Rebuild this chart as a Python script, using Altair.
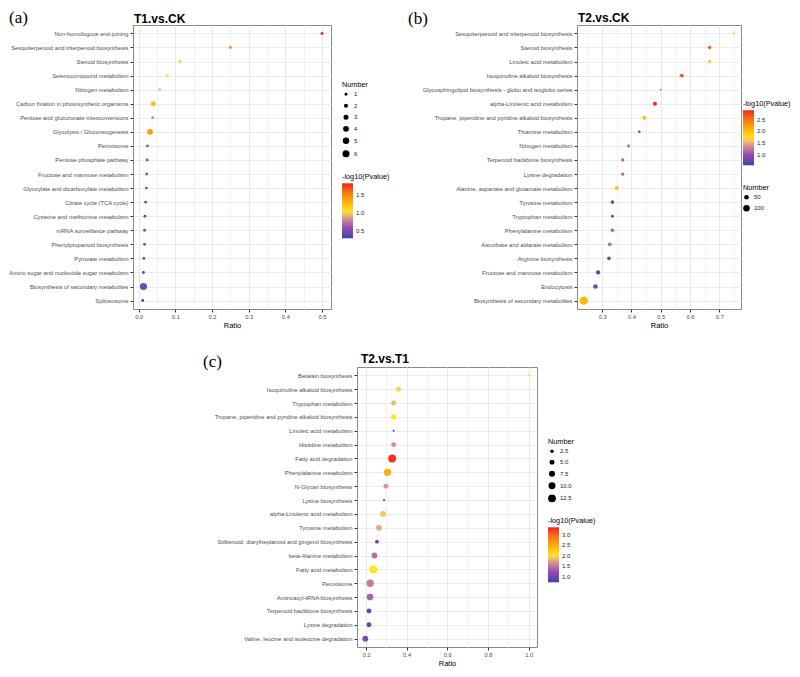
import altair as alt
import pandas as pd

# ---------------- Panel (a): T1.vs.CK ----------------
a_terms = [
    "Non-homologous end-joining",
    "Sesquiterpenoid and triterpenoid biosynthesis",
    "Steroid biosynthesis",
    "Selenocompound metabolism",
    "Nitrogen metabolism",
    "Carbon fixation in photosynthetic organisms",
    "Pentose and glucuronate interconversions",
    "Glycolysis / Gluconeogenesis",
    "Peroxisome",
    "Pentose phosphate pathway",
    "Fructose and mannose metabolism",
    "Glyoxylate and dicarboxylate metabolism",
    "Citrate cycle (TCA cycle)",
    "Cysteine and methionine metabolism",
    "mRNA surveillance pathway",
    "Phenylpropanoid biosynthesis",
    "Pyruvate metabolism",
    "Amino sugar and nucleotide sugar metabolism",
    "Biosynthesis of secondary metabolites",
    "Spliceosome",
]
a_ratio = [0.5, 0.25, 0.112, 0.078, 0.057, 0.04, 0.038, 0.031, 0.024, 0.023,
           0.022, 0.021, 0.019, 0.017, 0.016, 0.016, 0.014, 0.013, 0.013, 0.011]
a_number = [1, 1, 1, 1, 1, 3, 1, 4, 1, 1, 1, 1, 1, 1, 1, 1, 1, 1, 6, 1]
a_logp = [1.84, 1.55, 1.15, 1.05, 0.98, 1.25, 0.8, 1.4, 0.6, 0.58,
          0.55, 0.52, 0.5, 0.47, 0.45, 0.44, 0.4, 0.37, 0.45, 0.3]

# ---------------- Panel (b): T2.vs.CK ----------------
b_terms = [
    "Sesquiterpenoid and triterpenoid biosynthesis",
    "Steroid biosynthesis",
    "Linoleic acid metabolism",
    "Isoquinoline alkaloid biosynthesis",
    "Glycosphingolipid biosynthesis - globo and isoglobo series",
    "alpha-Linolenic acid metabolism",
    "Tropane, piperidine and pyridine alkaloid biosynthesis",
    "Thiamine metabolism",
    "Nitrogen metabolism",
    "Terpenoid backbone biosynthesis",
    "Lysine degradation",
    "Alanine, aspartate and glutamate metabolism",
    "Tyrosine metabolism",
    "Tryptophan metabolism",
    "Phenylalanine metabolism",
    "Ascorbate and aldarate metabolism",
    "Arginine biosynthesis",
    "Fructose and mannose metabolism",
    "Endocytosis",
    "Biosynthesis of secondary metabolites",
]
b_ratio = [0.75, 0.667, 0.667, 0.572, 0.5, 0.48, 0.444, 0.427, 0.39, 0.37,
           0.37, 0.35, 0.335, 0.335, 0.335, 0.326, 0.323, 0.286, 0.277, 0.237]
b_number = [10, 30, 20, 35, 5, 40, 35, 15, 25, 25,
            25, 42, 30, 20, 30, 35, 30, 42, 50, 160]
b_logp = [1.9, 2.6, 2.0, 2.65, 0.6, 2.85, 2.05, 0.7, 1.25, 1.15,
          1.15, 1.95, 0.85, 0.7, 1.1, 1.2, 0.72, 0.7, 0.75, 2.05]

# ---------------- Panel (c): T2.vs.T1 ----------------
c_terms = [
    "Betalain biosynthesis",
    "Isoquinoline alkaloid biosynthesis",
    "Tryptophan metabolism",
    "Tropane, piperidine and pyridine alkaloid biosynthesis",
    "Linoleic acid metabolism",
    "Histidine metabolism",
    "Fatty acid degradation",
    "Phenylalanine metabolism",
    "N-Glycan biosynthesis",
    "Lysine biosynthesis",
    "alpha-Linolenic acid metabolism",
    "Tyrosine metabolism",
    "Stilbenoid, diarylheptanoid and gingerol biosynthesis",
    "beta-Alanine metabolism",
    "Fatty acid metabolism",
    "Peroxisome",
    "Aminoacyl-tRNA biosynthesis",
    "Terpenoid backbone biosynthesis",
    "Lysine degradation",
    "Valine, leucine and isoleucine degradation",
]
c_ratio = [1.0, 0.36, 0.336, 0.336, 0.336, 0.336, 0.329, 0.306, 0.298, 0.289,
           0.284, 0.264, 0.254, 0.242, 0.236, 0.221, 0.22, 0.215, 0.215, 0.197]
c_number = [1, 5, 5, 6, 1, 5, 13, 11, 5, 1,
            7, 7, 3, 7, 14, 11, 9, 5, 5, 7]
c_logp = [2.05, 1.95, 1.85, 2.05, 0.85, 1.65, 3.3, 2.5, 1.7, 0.85,
          1.92, 1.8, 0.9, 1.45, 2.05, 1.55, 1.4, 0.95, 0.95, 1.1]

# gradient colours (low -> high) and their relative stops
COLORS = ["#3B45A5", "#8E49B0", "#D48A9A", "#FFE819", "#FF9A0E", "#EE1B1B"]
STOPS = [0.0, 0.18, 0.35, 0.5, 0.72, 1.0]

FONT = "Liberation Sans"


def panel(terms, ratio, number, logp, title, title_dx, title_dy,
          tag, tag_dx, tag_dy,
          xdom, xvals, major_k, cdom, cvals, nmax, amax, nvals, nfmt,
          size_xy, color_xy, W, H, row_pad):
    df = pd.DataFrame({"Term": terms, "Ratio": ratio,
                       "Number": number, "logP": logp})
    lo, hi = cdom
    stops = [lo + t * (hi - lo) for t in STOPS]
    major = f"abs(datum.value*{major_k} - round(datum.value*{major_k})) < 0.001"
    pts = alt.Chart(df).mark_circle(opacity=1).encode(
        x=alt.X(
            "Ratio:Q",
            scale=alt.Scale(domain=xdom, nice=False, zero=False),
            axis=alt.Axis(
                title="Ratio", values=xvals,
                labelExpr=f"{major} ? format(datum.value, '.1f') : ''",
                labelOverlap=False, labelFontSize=5.8, labelColor="#4D4D4D",
                labelPadding=1.5, tickSize=3, tickColor="#333333",
                tickOpacity={"condition": {"test": major, "value": 1}, "value": 0},
                gridColor={"condition": {"test": major, "value": "#E8E8E8"},
                           "value": "#F2F2F2"},
                domain=False, titleFontSize=7.5, titleFontWeight="normal",
                titleColor="black", titlePadding=2,
            ),
        ),
        y=alt.Y(
            "Term:N", sort=terms,
            scale=alt.Scale(type="point", padding=0.6),
            axis=alt.Axis(
                title=None, labelFontSize=5.8, labelColor="#4D4D4D",
                labelLimit=400, labelPadding=2, tickSize=3,
                tickColor="#333333", domain=False, grid=True,
                gridColor="#EBEBEB",
            ),
        ),
        color=alt.Color(
            "logP:Q",
            scale=alt.Scale(domain=stops, range=COLORS, interpolate="lab"),
            legend=alt.Legend(
                title="-log10(Pvalue)", orient="none",
                legendX=color_xy[0], legendY=color_xy[1],
                direction="vertical", values=cvals, format=".1f",
                gradientLength=55, gradientThickness=11,
                gradientStrokeWidth=0, labelFontSize=6,
                labelColor="#222222", titleFontSize=7.3,
                titleFontWeight="normal", titleColor="black",
                titlePadding=3, labelOffset=3,
            ),
        ),
        size=alt.Size(
            "Number:Q",
            scale=alt.Scale(domain=[0, nmax], range=[0, amax]),
            legend=alt.Legend(
                title="Number", orient="none",
                legendX=size_xy[0], legendY=size_xy[1],
                values=nvals, format=nfmt, symbolType="circle",
                symbolFillColor="black", symbolStrokeColor="black",
                symbolStrokeWidth=0, symbolOpacity=1,
                labelFontSize=6, labelColor="#222222",
                titleFontSize=7.3, titleFontWeight="normal",
                titleColor="black", titlePadding=3, rowPadding=row_pad,
                labelOffset=4,
            ),
        ),
    )
    tag_layer = alt.Chart(pd.DataFrame({"tag": [tag]})).mark_text(
        font="Liberation Serif", fontSize=17, align="left",
        baseline="alphabetic", color="black",
    ).encode(text="tag:N", x=alt.value(tag_dx), y=alt.value(tag_dy))
    title_layer = alt.Chart(pd.DataFrame({"t": [title]})).mark_text(
        fontSize=12, fontWeight="bold", align="left",
        baseline="alphabetic", color="black",
    ).encode(text="t:N", x=alt.value(title_dx), y=alt.value(title_dy))
    return alt.layer(pts, tag_layer, title_layer).properties(width=W, height=H)


pa = panel(a_terms, a_ratio, a_number, a_logp, "T1.vs.CK", 1, -2.5,
           "(a)", -124, -2.5,
           [-0.0155, 0.5245], [round(0.05 * i, 2) for i in range(0, 11)], 10,
           [0.28, 1.84], [0.5, 1.0, 1.5], 6, 50, [1, 2, 3, 4, 5, 6], "d",
           (209, 56), (209, 148), 198, 284, 5.5)

pb = panel(b_terms, b_ratio, b_number, b_logp, "T2.vs.CK", 1, -3,
           "(b)", -169, -0.7,
           [0.214, 0.774], [round(0.25 + 0.05 * i, 2) for i in range(0, 11)], 10,
           [0.56, 2.89], [1.0, 1.5, 2.0, 2.5], 160, 68, [50, 100], "d",
           (166, 159), (166, 75), 164, 284, 4.5)

pc = panel(c_terms, c_ratio, c_number, c_logp, "T2.vs.T1", 4, -4,
           "(c)", -154, 0,
           [0.156, 1.041], [round(0.2 + 0.1 * i, 2) for i in range(0, 9)], 5,
           [0.73, 3.37], [1.0, 1.5, 2.0, 2.5, 3.0], 14, 68,
           [2.5, 5.0, 7.5, 10.0, 12.5], ".1f",
           (191, 71), (191, 150), 180, 280, 5)

spacer = alt.Chart(pd.DataFrame({"v": [0]})).mark_point(opacity=0).properties(
    width=68, height=10, view=alt.ViewBackground(stroke="transparent"))

IND = dict(color="independent", size="independent")

top = alt.concat(pa, pb, columns=2, spacing=16, align="none").resolve_scale(**IND)
bottom = alt.concat(spacer, pc, columns=2, spacing=0, align="none").resolve_scale(**IND)

chart = alt.concat(top, bottom, columns=1, spacing=22, align="none").resolve_scale(
    **IND).properties(padding=0).configure(font=FONT).configure_view(
    stroke="#888888", strokeWidth=1)

chart.save("out.html", embed_options={"renderer": "svg", "actions": False})
